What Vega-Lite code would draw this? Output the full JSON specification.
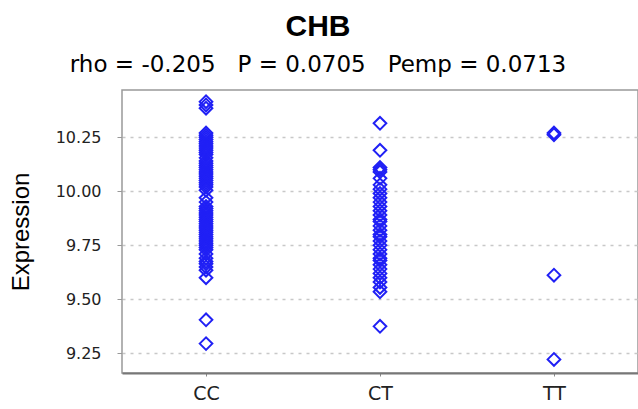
{
  "$schema": "https://vega.github.io/schema/vega-lite/v6.json",
  "width": 516,
  "height": 283,
  "autosize": {"type": "none"},
  "padding": {"left": 122, "top": 90, "right": 0, "bottom": 36},
  "background": "white",
  "title": {
    "text": "CHB",
    "subtitle": "rho = -0.205\u00a0\u00a0\u00a0P = 0.0705\u00a0\u00a0\u00a0Pemp = 0.0713",
    "anchor": "middle",
    "frame": "group",
    "dx": -62,
    "font": "Liberation Sans",
    "fontSize": 30,
    "fontWeight": "bold",
    "color": "#000000",
    "subtitleFont": "DejaVu Sans",
    "subtitleFontSize": 23,
    "subtitleColor": "#000000",
    "subtitlePadding": 12,
    "offset": 13
  },
  "data": {
    "values": [
      {"genotype": "CC", "expression": 10.415},
      {"genotype": "CC", "expression": 10.40},
      {"genotype": "CC", "expression": 10.385},
      {"genotype": "CC", "expression": 10.27},
      {"genotype": "CC", "expression": 10.26},
      {"genotype": "CC", "expression": 10.25},
      {"genotype": "CC", "expression": 10.24},
      {"genotype": "CC", "expression": 10.23},
      {"genotype": "CC", "expression": 10.22},
      {"genotype": "CC", "expression": 10.21},
      {"genotype": "CC", "expression": 10.20},
      {"genotype": "CC", "expression": 10.19},
      {"genotype": "CC", "expression": 10.18},
      {"genotype": "CC", "expression": 10.17},
      {"genotype": "CC", "expression": 10.155},
      {"genotype": "CC", "expression": 10.14},
      {"genotype": "CC", "expression": 10.13},
      {"genotype": "CC", "expression": 10.12},
      {"genotype": "CC", "expression": 10.11},
      {"genotype": "CC", "expression": 10.10},
      {"genotype": "CC", "expression": 10.09},
      {"genotype": "CC", "expression": 10.08},
      {"genotype": "CC", "expression": 10.07},
      {"genotype": "CC", "expression": 10.06},
      {"genotype": "CC", "expression": 10.05},
      {"genotype": "CC", "expression": 10.04},
      {"genotype": "CC", "expression": 10.03},
      {"genotype": "CC", "expression": 10.02},
      {"genotype": "CC", "expression": 10.005},
      {"genotype": "CC", "expression": 9.97},
      {"genotype": "CC", "expression": 9.95},
      {"genotype": "CC", "expression": 9.93},
      {"genotype": "CC", "expression": 9.92},
      {"genotype": "CC", "expression": 9.91},
      {"genotype": "CC", "expression": 9.90},
      {"genotype": "CC", "expression": 9.89},
      {"genotype": "CC", "expression": 9.88},
      {"genotype": "CC", "expression": 9.87},
      {"genotype": "CC", "expression": 9.86},
      {"genotype": "CC", "expression": 9.85},
      {"genotype": "CC", "expression": 9.84},
      {"genotype": "CC", "expression": 9.83},
      {"genotype": "CC", "expression": 9.82},
      {"genotype": "CC", "expression": 9.81},
      {"genotype": "CC", "expression": 9.80},
      {"genotype": "CC", "expression": 9.79},
      {"genotype": "CC", "expression": 9.78},
      {"genotype": "CC", "expression": 9.77},
      {"genotype": "CC", "expression": 9.76},
      {"genotype": "CC", "expression": 9.75},
      {"genotype": "CC", "expression": 9.74},
      {"genotype": "CC", "expression": 9.73},
      {"genotype": "CC", "expression": 9.71},
      {"genotype": "CC", "expression": 9.69},
      {"genotype": "CC", "expression": 9.675},
      {"genotype": "CC", "expression": 9.665},
      {"genotype": "CC", "expression": 9.65},
      {"genotype": "CC", "expression": 9.635},
      {"genotype": "CC", "expression": 9.60},
      {"genotype": "CC", "expression": 9.405},
      {"genotype": "CC", "expression": 9.295},
      {"genotype": "CT", "expression": 10.315},
      {"genotype": "CT", "expression": 10.19},
      {"genotype": "CT", "expression": 10.11},
      {"genotype": "CT", "expression": 10.10},
      {"genotype": "CT", "expression": 10.09},
      {"genotype": "CT", "expression": 10.06},
      {"genotype": "CT", "expression": 10.03},
      {"genotype": "CT", "expression": 10.01},
      {"genotype": "CT", "expression": 9.99},
      {"genotype": "CT", "expression": 9.97},
      {"genotype": "CT", "expression": 9.95},
      {"genotype": "CT", "expression": 9.93},
      {"genotype": "CT", "expression": 9.91},
      {"genotype": "CT", "expression": 9.89},
      {"genotype": "CT", "expression": 9.87},
      {"genotype": "CT", "expression": 9.86},
      {"genotype": "CT", "expression": 9.84},
      {"genotype": "CT", "expression": 9.82},
      {"genotype": "CT", "expression": 9.80},
      {"genotype": "CT", "expression": 9.79},
      {"genotype": "CT", "expression": 9.77},
      {"genotype": "CT", "expression": 9.75},
      {"genotype": "CT", "expression": 9.73},
      {"genotype": "CT", "expression": 9.71},
      {"genotype": "CT", "expression": 9.69},
      {"genotype": "CT", "expression": 9.68},
      {"genotype": "CT", "expression": 9.66},
      {"genotype": "CT", "expression": 9.64},
      {"genotype": "CT", "expression": 9.62},
      {"genotype": "CT", "expression": 9.60},
      {"genotype": "CT", "expression": 9.58},
      {"genotype": "CT", "expression": 9.555},
      {"genotype": "CT", "expression": 9.535},
      {"genotype": "CT", "expression": 9.375},
      {"genotype": "TT", "expression": 10.27},
      {"genotype": "TT", "expression": 10.262},
      {"genotype": "TT", "expression": 9.612},
      {"genotype": "TT", "expression": 9.222}
    ]
  },
  "mark": {
    "type": "point",
    "shape": "diamond",
    "filled": false,
    "size": 160,
    "strokeWidth": 2,
    "color": "#2020f5",
    "opacity": 1
  },
  "encoding": {
    "x": {
      "field": "genotype",
      "type": "nominal",
      "sort": ["CC", "CT", "TT"],
      "scale": {"type": "point", "padding": 0.483},
      "axis": {
        "title": null,
        "labelAngle": 0,
        "labelFont": "DejaVu Sans",
        "labelFontSize": 19,
        "labelColor": "#222222",
        "labelPadding": 8,
        "tickSize": 3,
        "tickColor": "#888888",
        "domainColor": "#777777",
        "domainWidth": 2,
        "grid": false
      }
    },
    "y": {
      "field": "expression",
      "type": "quantitative",
      "scale": {"domain": [9.159, 10.469], "nice": false, "zero": false},
      "axis": {
        "title": "Expression",
        "titleFont": "Liberation Sans",
        "titleFontSize": 24,
        "titleFontWeight": "normal",
        "titleColor": "#000000",
        "titlePadding": 22,
        "values": [9.25, 9.5, 9.75, 10, 10.25],
        "format": ".2f",
        "labelFont": "DejaVu Sans",
        "labelFontSize": 16,
        "labelColor": "#222222",
        "labelPadding": 16,
        "tickSize": 5,
        "tickColor": "#999999",
        "domain": false,
        "grid": true,
        "gridDash": [3, 5],
        "gridColor": "#c8c8c8",
        "gridWidth": 1.5
      }
    }
  },
  "config": {
    "view": {"stroke": "#999999", "strokeWidth": 1.5}
  }
}
